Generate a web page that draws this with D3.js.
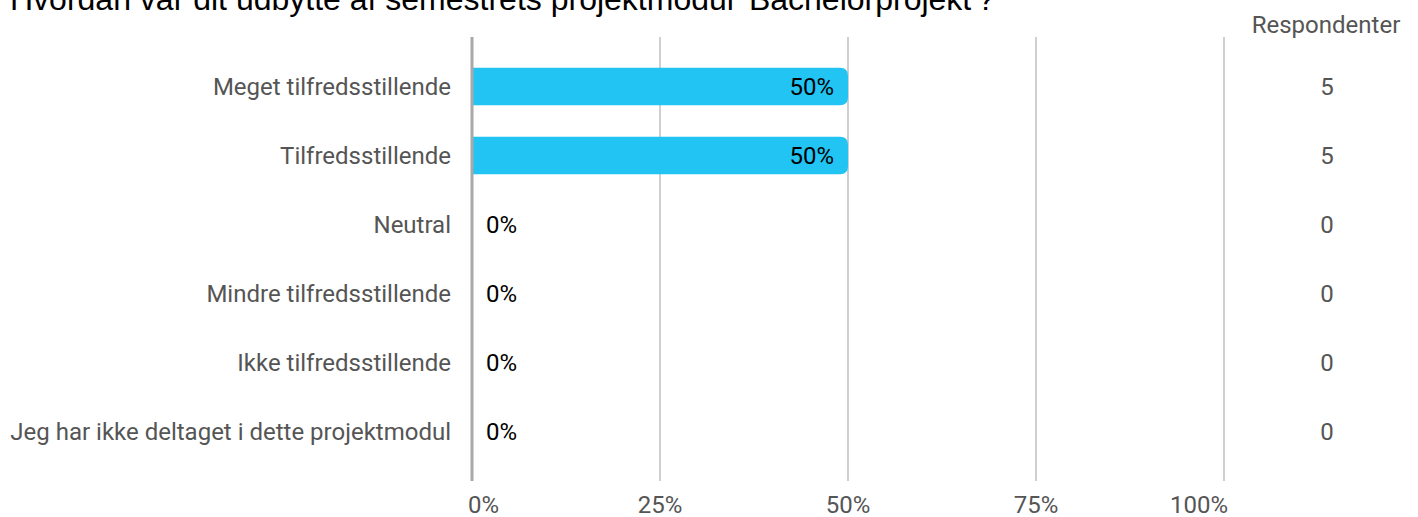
<!DOCTYPE html>
<html>
<head>
<meta charset="utf-8">
<script src="https://cdn.jsdelivr.net/npm/d3@7"></script>
<style>
  body { margin:0; background:#fff; }
  text { font-family: Roboto, "Noto Sans", sans-serif; }
</style>
</head>
<body>
<svg id="chart" width="1418" height="517"></svg>
<script>
const title = "Hvordan var dit udbytte af semestrets projektmodul 'Bachelorprojekt'?";
const categories = ["Meget tilfredsstillende","Tilfredsstillende","Neutral","Mindre tilfredsstillende","Ikke tilfredsstillende","Jeg har ikke deltaget i dette projektmodul"];
const percents = [50, 50, 0, 0, 0, 0];
const respondents = [5, 5, 0, 0, 0, 0];
const xTicks = [0, 25, 50, 75, 100];

let svg = d3.select("#chart");

let x = d3.scaleLinear().domain([0,100]).range([472,1224]);
let y = d3.scaleBand().domain(categories).range([52,466]).paddingInner(0.46).paddingOuter(0.23);

// title (clipped at top like the original)
svg.append("text")
  .attr("x", 10).attr("y", 10)
  .style("font-family", "'Liberation Sans', Arial, sans-serif")
  .style("font-size", "32px")
  .attr("fill", "#000")
  .text(title);

// grid lines
svg.append("g").selectAll("line")
  .data(xTicks.filter(d => d > 0))
  .enter().append("line")
  .attr("x1", d => x(d)).attr("x2", d => x(d))
  .attr("y1", 37).attr("y2", 481)
  .attr("stroke", "#b0b0b0").attr("stroke-width", 1.2);

// bars with rounded right end
let r = 8;
svg.append("g").selectAll("path")
  .data(categories.map((c,i) => ({c: c, v: percents[i]})).filter(d => d.v > 0))
  .enter().append("path")
  .attr("fill", "#22c4f4")
  .attr("d", function(d){
    let x0 = x(0), x1 = x(d.v), y0 = y(d.c), h = y.bandwidth();
    return "M"+x0+","+y0+"H"+(x1-r)+"Q"+x1+","+y0+" "+x1+","+(y0+r)+
      "V"+(y0+h-r)+"Q"+x1+","+(y0+h)+" "+(x1-r)+","+(y0+h)+"H"+x0+"Z";
  });

// zero axis
svg.append("line")
  .attr("x1", x(0)).attr("x2", x(0))
  .attr("y1", 37).attr("y2", 481)
  .attr("stroke", "#a8a8a8").attr("stroke-width", 3);

// category labels
svg.append("g").selectAll("text")
  .data(categories)
  .enter().append("text")
  .attr("x", 451)
  .attr("y", d => y(d) + y.bandwidth()/2)
  .attr("dy", "0.35em")
  .attr("text-anchor", "end")
  .attr("fill", "#555")
  .style("font-size", "24px")
  .text(d => d);

// value labels
svg.append("g").selectAll("text")
  .data(categories)
  .enter().append("text")
  .attr("x", (d,i) => percents[i] > 0 ? x(percents[i]) - 14 : x(0) + 14)
  .attr("y", d => y(d) + y.bandwidth()/2)
  .attr("dy", "0.35em")
  .attr("text-anchor", (d,i) => percents[i] > 0 ? "end" : "start")
  .attr("fill", "#000")
  .style("font-size", "24px")
  .text((d,i) => percents[i] + "%");

// respondents column
svg.append("text")
  .attr("x", 1326).attr("y", 33)
  .attr("text-anchor", "middle")
  .attr("fill", "#555")
  .style("font-size", "24px")
  .text("Respondenter");

svg.append("g").selectAll("text")
  .data(categories)
  .enter().append("text")
  .attr("x", 1327)
  .attr("y", d => y(d) + y.bandwidth()/2)
  .attr("dy", "0.35em")
  .attr("text-anchor", "middle")
  .attr("fill", "#555")
  .style("font-size", "24px")
  .text((d,i) => respondents[i]);

// x tick labels
svg.append("g").selectAll("text")
  .data(xTicks)
  .enter().append("text")
  .attr("x", d => d === 0 ? x(d) - 4 : (d === 100 ? x(d) + 4 : x(d)))
  .attr("y", 505)
  .attr("dy", "0.35em")
  .attr("text-anchor", d => d === 0 ? "start" : (d === 100 ? "end" : "middle"))
  .attr("fill", "#555")
  .style("font-size", "24px")
  .text(d => d + "%");
</script>
</body>
</html>
